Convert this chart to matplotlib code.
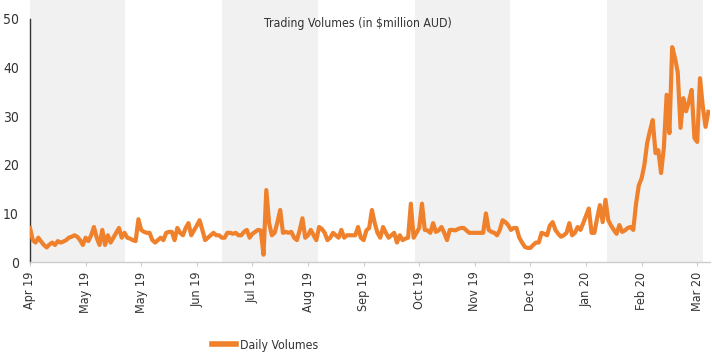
import matplotlib
matplotlib.use("Agg")
import matplotlib.pyplot as plt
from matplotlib.lines import Line2D

plt.rcParams['font.family'] = ['DejaVu Sans']
plt.rcParams['font.stretch'] = 'condensed'

volumes = [
    7, 4.5, 4, 5, 4.2, 3.5, 3, 3.6, 4, 3.5,
    4.3, 4, 4.2, 4.5, 5, 5.2, 5.5, 5.2, 4.5, 3.5,
    5, 4.3, 5.5, 7.2, 5, 3.5, 6.6, 3.5, 5.5, 4,
    5, 6, 7, 5, 6, 5, 4.8, 4.5, 4.3, 8.8,
    6.6, 6.2, 6, 6, 4.5, 4, 4.5, 5, 4.5, 6,
    6.2, 6.2, 4.5, 7, 6, 5.5, 7, 8, 5.5, 6.5,
    7.5, 8.6, 6.6, 4.5, 5, 5.5, 6, 5.5, 5.5, 5,
    5, 6, 6, 5.8, 6, 5.5, 5.5, 6.2, 6.6, 5,
    5.8, 6.2, 6.6, 6.5, 1.5, 14.8, 8, 5.5, 6, 8.2,
    10.7, 6, 6.2, 6, 6.2, 5, 4.5, 6.5, 9, 5,
    5.5, 6.6, 5.5, 4.5, 7.2, 6.8, 6, 4.5, 5, 6,
    5.5, 5, 6.6, 5, 5.5, 5.5, 5.5, 5.5, 7.2, 5,
    4.5, 6.5, 7, 10.7, 8, 6, 5, 7.2, 6, 5,
    5.5, 6, 4, 5.5, 4.5, 4.8, 5, 12, 5, 6,
    7, 12, 6.6, 6.5, 6, 8, 6.2, 6.5, 7.2, 6,
    4.5, 6.6, 6.6, 6.5, 6.8, 7, 7, 6.5, 6, 6,
    6, 6, 6, 6, 10, 6.6, 6.2, 6, 5.5, 6.6,
    8.6, 8.2, 7.6, 6.6, 7, 7, 5, 4, 3.1, 2.9,
    2.9, 3.5, 4, 4, 6, 5.8, 5.5, 7.5, 8.2, 6.6,
    5.8, 5.2, 5.5, 6, 8, 5.5, 6, 7.2, 6.6, 8,
    9.5, 11, 6, 6, 9, 11.7, 8.2, 12.8, 8.6, 7.5,
    6.6, 5.8, 7.6, 6.2, 6.5, 7, 7.2, 6.6, 12, 15.8,
    17.2, 20, 24.5, 27, 29.2, 22.4, 23, 18.3, 23.5, 34.4,
    26.5, 44.2, 42, 39, 27.6, 33.7, 31, 33, 35.4, 25.5,
    24.7, 37.8, 32, 27.8, 30.9,
]
tick_labels = ["Apr 19", "May 19", "May 19", "Jun 19", "Jul 19", "Aug 19", "Sep 19",
               "Oct 19", "Nov 19", "Dec 19", "Jan 20", "Feb 20", "Mar 20"]
tick_step = 20
bands = [(0, 34), (69, 103.5), (138.5, 172.5), (207.5, 242)]
y_ticks = [0, 10, 20, 30, 40, 50]

fig = plt.figure(figsize=(7.12, 3.59), dpi=100)
ax = fig.add_axes([30/712, 97/359, 680/712, 262/359])

for a, b in bands:
    ax.axvspan(a, b, color='#f1f1f1', lw=0, zorder=0)

color = '#f0812c'
ax.plot(range(len(volumes)), volumes, color=color, lw=3, solid_joinstyle='round', zorder=3)

ax.set_xlim(0, 244.6)
ax.set_ylim(0, 53.9)
ax.set_yticks(y_ticks)
ax.set_yticklabels([str(v) for v in y_ticks], fontsize=10, color='#333333')
ax.tick_params(axis='y', length=0, pad=8)
ax.set_xticks([i * tick_step for i in range(len(tick_labels))])
ax.set_xticklabels(tick_labels, rotation=90, fontsize=9, color='#333333')
ax.tick_params(axis='x', length=3, color='#cccccc', pad=4)

for s in ['top', 'right']:
    ax.spines[s].set_visible(False)
ax.spines['left'].set_bounds(0, 50)
ax.spines['left'].set_color('#333333')
ax.spines['left'].set_linewidth(1)
ax.spines['bottom'].set_color('#cccccc')
ax.spines['bottom'].set_linewidth(1)

ax.text(0.482, 0.912, 'Trading Volumes (in $million AUD)', transform=ax.transAxes,
        ha='center', va='center', fontsize=8.8, color='#333333')

handle = Line2D([0], [0], color=color, lw=4)
fig.legend([handle], ['Daily Volumes'], loc='center', bbox_to_anchor=(265/712, 14/359),
           frameon=False, fontsize=8.8, handlelength=2.0, handletextpad=0.3,
           labelcolor='#333333')

fig.savefig('out.png', dpi=100)
